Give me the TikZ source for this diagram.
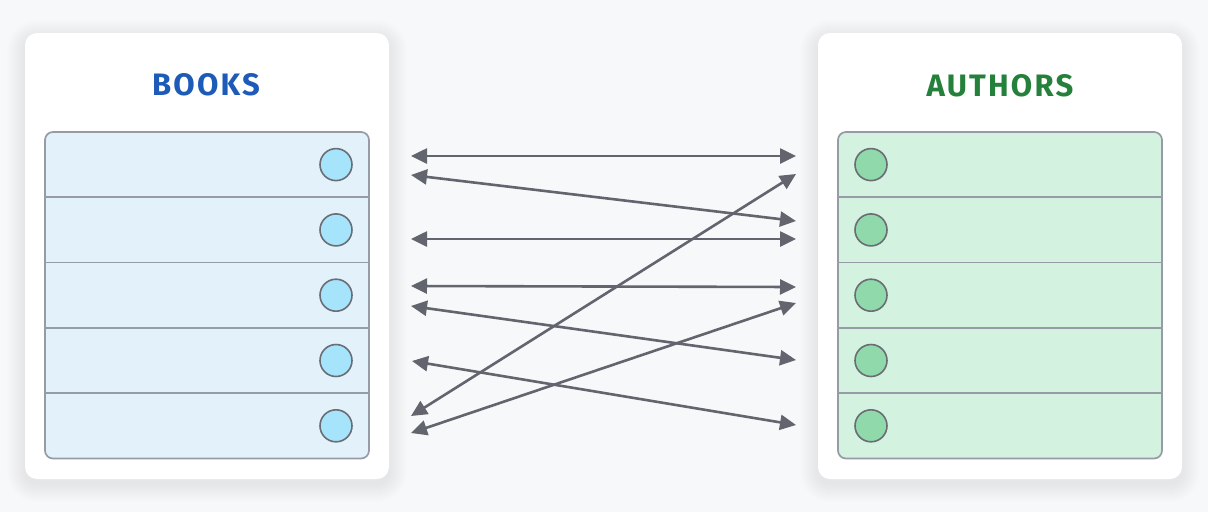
\documentclass[tikz,border=0pt]{standalone}
\usepackage{fontspec}
\setmainfont{Fira Sans}
\usetikzlibrary{arrows.meta}
\definecolor{bg}{HTML}{F7F8FA}
\definecolor{tblborder}{HTML}{979BA5}
\definecolor{circborder}{HTML}{6A6D75}
\definecolor{bookfill}{HTML}{E3F2FA}
\definecolor{bookcirc}{HTML}{A6E4FC}
\definecolor{authfill}{HTML}{D3F2E0}
\definecolor{authcirc}{HTML}{8FD9AB}
\definecolor{booktitle}{HTML}{1E5BB8}
\definecolor{authtitle}{HTML}{24803A}
\definecolor{arrowcol}{HTML}{62646E}
\begin{document}
\begin{tikzpicture}[x=1pt,y=-1pt,
  panel/.style={draw=none,fill=white,rounded corners=12pt,minimum width=364pt,minimum height=446pt,inner sep=0pt},
  tbl/.style={draw=tblborder,line width=1.7pt,rounded corners=8pt,minimum width=324pt,minimum height=326.5pt,inner sep=0pt},
  divider/.style={draw=tblborder,line width=1.7pt},
  dot/.style={circle,draw=circborder,line width=1.6pt,minimum size=32pt,inner sep=0pt},
  ttl/.style={anchor=base,font=\fontsize{31}{36}\selectfont\bfseries\addfontfeatures{LetterSpace=7}},
  link/.style={draw=arrowcol,line width=2.6pt,{Triangle[length=16pt,width=15pt]}-{Triangle[length=16pt,width=15pt]}}
]
\useasboundingbox[fill=bg] (0,0) rectangle (1208,512);
% soft shadows
\foreach \cx in {207,1000}{
  \foreach \s in {1,...,18}{
    \fill[black,opacity=0.005,rounded corners=12pt+\s pt]
      (\cx-182-\s,33-\s+5) rectangle (\cx+182+\s,479+\s+5);
  }
}
% panels
\node[panel] (pl) at (207,256) {};
\node[panel] (pr) at (1000,256) {};
\node[ttl,text=booktitle] (tl) at (206,95.7) {BOOKS};
\node[ttl,text=authtitle] (tr) at (1000,96) {AUTHORS};
% tables
\node[tbl,fill=bookfill] (tbl) at (207,295.25) {};
\node[tbl,fill=authfill] (tbr) at (1000,295.25) {};
\foreach \k in {1,2,3,4}{
  \draw[divider] (45,132+65.3*\k) -- (369,132+65.3*\k);
  \draw[divider] (838,132+65.3*\k) -- (1162,132+65.3*\k);
}
\foreach \k in {0,1,2,3,4}{
  \node[dot,fill=bookcirc] (b\k) at (336,164.6+65.3*\k) {};
  \node[dot,fill=authcirc] (a\k) at (871,164.6+65.3*\k) {};
}
% arrow ends
\coordinate (l1) at (411,156);   \coordinate (r1) at (796,156);
\coordinate (l2) at (411,175);   \coordinate (r2) at (796,221);
\coordinate (l3) at (411,239);   \coordinate (r3) at (796,239);
\coordinate (l4) at (411,286);   \coordinate (r4) at (796,287);
\coordinate (l5) at (411,306);   \coordinate (r5) at (796,360);
\coordinate (l6) at (412,361);   \coordinate (r6) at (796,425);
\coordinate (l7) at (411,416);   \coordinate (r7) at (796,174);
\coordinate (l8) at (411,433);   \coordinate (r8) at (796,303);
\foreach \i in {1,...,8}{
  \draw[link] (l\i) -- (r\i);
}
\end{tikzpicture}
\end{document}
